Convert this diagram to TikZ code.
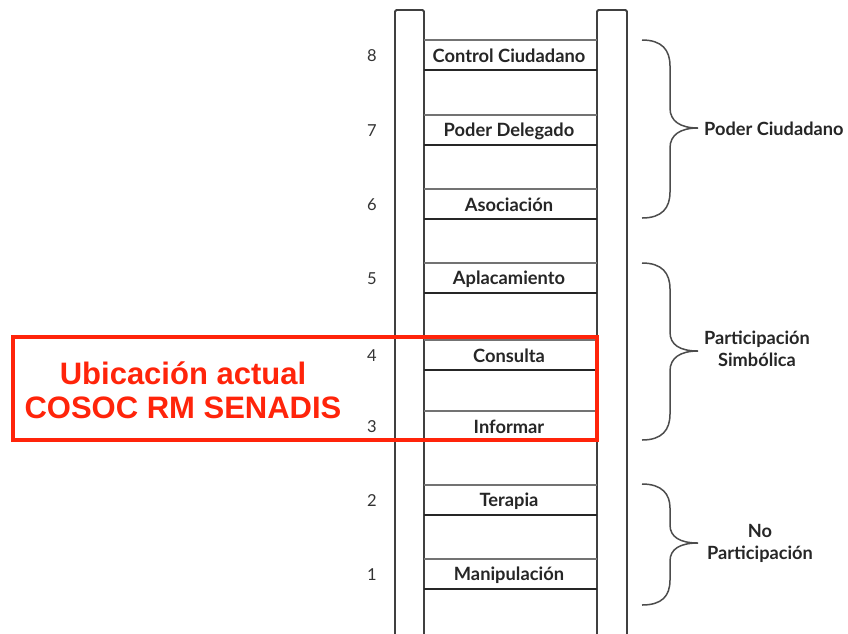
\documentclass[tikz,border=0pt]{standalone}
\usepackage{fontspec}
\setmainfont{Lato}
\newfontfamily\redfont{Liberation Sans}
\definecolor{redline}{RGB}{255,36,10}
\begin{document}
\begin{tikzpicture}[x=1pt,y=-1pt,
  rail/.style={draw=black!75,line width=1.8pt,fill=white,rounded corners=1.5pt},
  rungtop/.style={draw=black!55,line width=1.5pt},
  rungbot/.style={draw=black!85,line width=2pt},
  rungtext/.style={font=\bfseries\fontsize{18.3}{20}\selectfont,text=black!85,inner sep=0pt},
  numtext/.style={font=\fontsize{16.5}{18}\selectfont,text=black!80,inner sep=0pt},
  bracep/.style={draw=black!70,line width=1.5pt},
  grouptext/.style={font=\bfseries\fontsize{18.2}{22}\selectfont,text=black!85,align=center,inner sep=0pt},
  redbox/.style={draw=redline,line width=3.8pt},
  redtext/.style={font=\redfont\bfseries\fontsize{31}{36}\selectfont,text=redline,align=center,inner sep=0pt}
]
\useasboundingbox (0,0) rectangle (848,633);
% rails
\draw[rail] (395,10) rectangle (424,640);
\draw[rail] (597,10) rectangle (627,640);
% rungs
\foreach \t/\lab/\n [count=\i] in {40/Control Ciudadano/8,115/Poder Delegado/7,189/Asociación/6,263/Aplacamiento/5,340/Consulta/4,411/Informar/3,485/Terapia/2,559/Manipulación/1}{
  \coordinate (tl\n) at (424,\t);
  \coordinate (tr\n) at (597,\t);
  \coordinate (bl\n) at (424,\t+30);
  \coordinate (br\n) at (597,\t+30);
  \draw[rungtop] (tl\n) -- (tr\n);
  \draw[rungbot] (bl\n) -- (br\n);
  \node[rungtext] (rung\n) at (509,\t+16) {\lab};
  \node[numtext] (num\n) at (372,\t+16) {\n};
}
% braces
\draw[bracep] (642,40) .. controls (662,40) and (670,50) .. (670,66) -- (670,108)
  .. controls (670,121) and (680,128) .. (698,128)
  .. controls (680,128) and (670,135) .. (670,148) -- (670,192)
  .. controls (670,208) and (662,218) .. (642,218);
\draw[bracep] (642,263) .. controls (662,263) and (670,273) .. (670,289) -- (670,332)
  .. controls (670,345) and (680,351) .. (698,351)
  .. controls (680,351) and (670,358) .. (670,371) -- (670,414)
  .. controls (670,430) and (662,440) .. (642,440);
\draw[bracep] (642,484) .. controls (662,484) and (670,494) .. (670,508) -- (670,525)
  .. controls (670,537) and (680,543) .. (698,543)
  .. controls (680,543) and (670,549) .. (670,561) -- (670,580)
  .. controls (670,596) and (662,605) .. (642,605);
\node[grouptext,anchor=west] (g1) at (704,129) {Poder Ciudadano};
\node[grouptext] (g2) at (757,349) {Participación\\Simbólica};
\node[grouptext] (g3) at (760,543) {No\\Participación};
% red box
\draw[redbox] (13,337) rectangle (597,440);
\node[redtext] (red) at (183,390) {Ubicación actual\\[-2pt]COSOC RM SENADIS};
\end{tikzpicture}
\end{document}
